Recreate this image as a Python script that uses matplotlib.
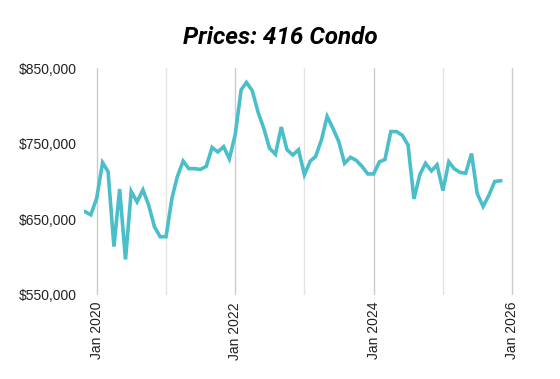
import pandas as pd
import matplotlib.pyplot as plt
import matplotlib.dates as mdates
from matplotlib.ticker import FuncFormatter

# monthly median price, Nov 2019 .. Nov 2025
start_month = "2019-11-01"
prices = [
    660000, 656000, 678000, 725000, 713000, 614000, 690000, 597000, 687000, 673000,
    689000, 669000, 640000, 627000, 627000, 678000, 706000, 727000, 717000, 717000,
    716000, 720000, 745000, 739000, 746000, 730000, 762000, 821000, 831000, 820000,
    792000, 770000, 744000, 736000, 772000, 742000, 735000, 742000, 709000, 727000,
    733000, 755000, 786000, 770000, 753000, 724000, 732000, 728000, 720000, 710000,
    710000, 726000, 729000, 766000, 766000, 761000, 748000, 677000, 709000, 724000,
    714000, 722000, 688000, 726000, 717000, 712000, 711000, 737000, 684000, 667000,
    682000, 700000, 701000,
]
y_ticks = [550000, 650000, 750000, 850000]
title = "Prices: 416 Condo"

dates = pd.date_range(start_month, periods=len(prices), freq="MS")

plt.rcParams["font.family"] = ["Liberation Sans", "DejaVu Sans"]

fig = plt.figure(figsize=(5.6, 3.79), dpi=100)
ax = fig.add_axes([84 / 560, 1 - 295 / 379, 430 / 560, 227 / 379])

ax.plot(dates, prices, color="#4bbfc9", linewidth=2.6, solid_joinstyle="miter")

ax.set_ylim(550000, 850000)
ax.set_yticks(y_ticks)
ax.yaxis.set_major_formatter(FuncFormatter(lambda v, p: f"${v:,.0f}"))
ax.set_xlim(pd.Timestamp("2019-10-26"), pd.Timestamp("2026-01-11"))

ax.xaxis.set_major_locator(mdates.YearLocator(2))
ax.xaxis.set_minor_locator(mdates.YearLocator(1))
ax.xaxis.set_major_formatter(mdates.DateFormatter("Jan %Y"))

ax.grid(True, axis="x", which="major", color="#cccccc", linewidth=1)
ax.grid(True, axis="x", which="minor", color="#e4e4e4", linewidth=1)
ax.set_axisbelow(True)

for s in ax.spines.values():
    s.set_visible(False)
ax.tick_params(axis="both", which="both", length=0, colors="#222222", labelsize=10)
ax.tick_params(axis="y", pad=5)
ax.tick_params(axis="x", pad=5)
for lbl in ax.get_xticklabels():
    lbl.set_rotation(90)
    lbl.set_va("top")

fig.text(280 / 560, 1 - 44 / 379, title, ha="center", va="baseline",
         fontsize=17.5, fontweight="bold", fontstyle="italic", color="#000000",
         family=["Roboto", "DejaVu Sans"])

fig.savefig("out.png", dpi=100)
